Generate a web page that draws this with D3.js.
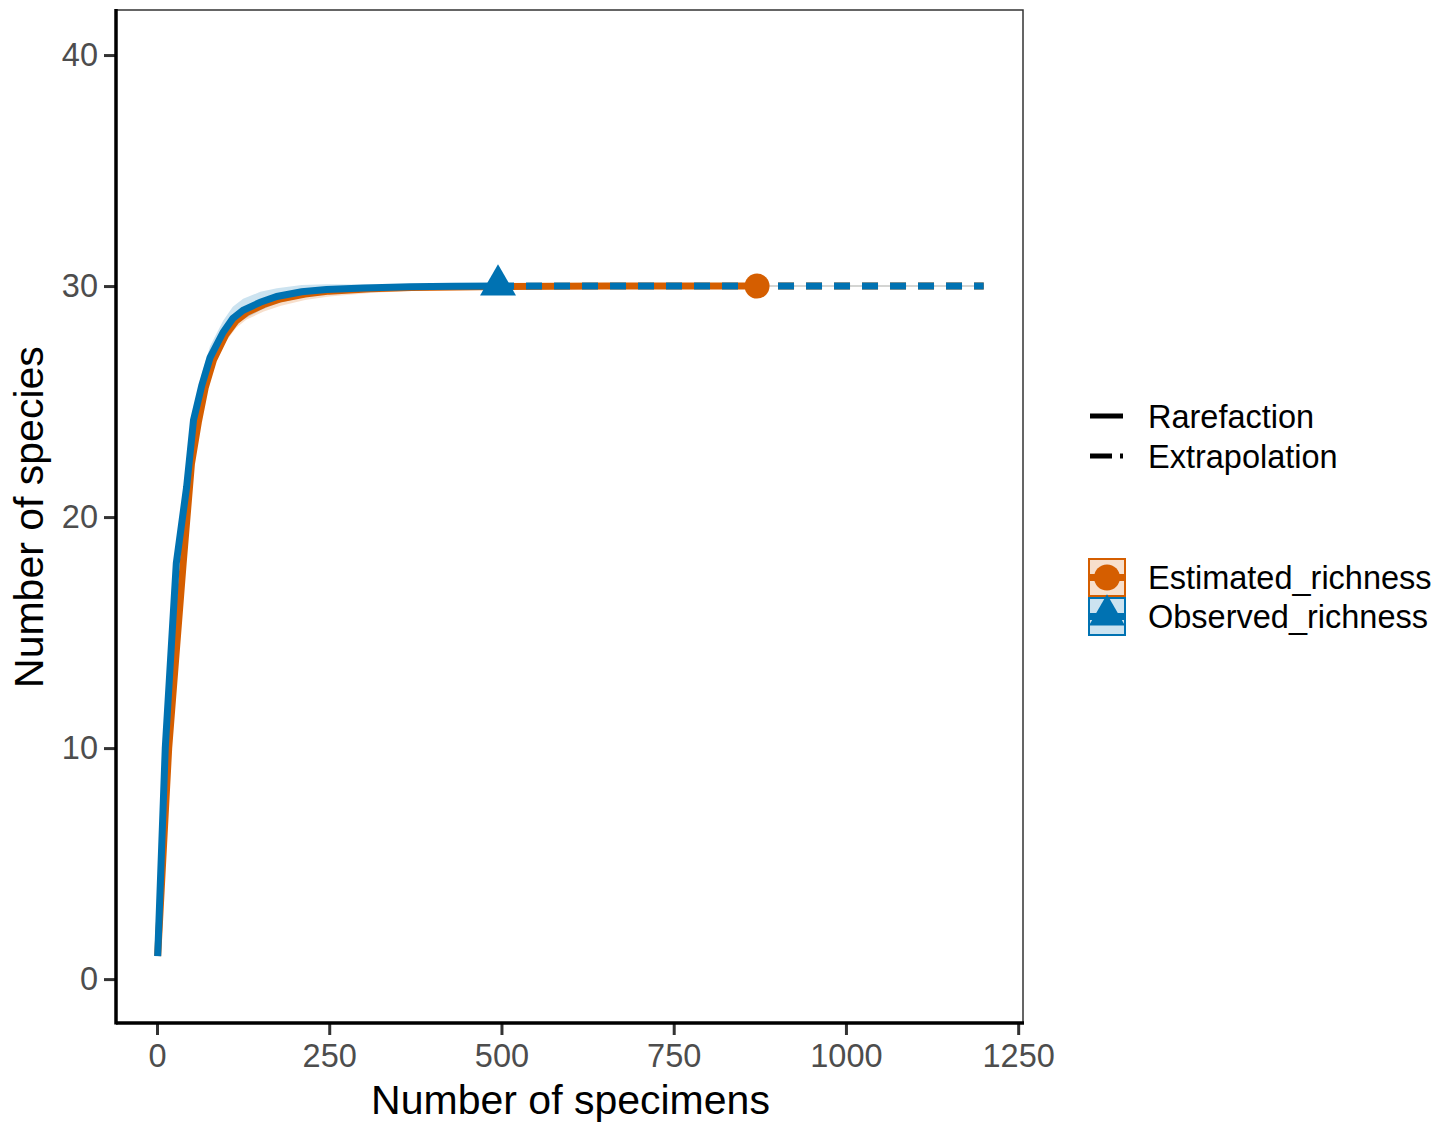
<!DOCTYPE html>
<html>
<head>
<meta charset="utf-8">
<script src="https://cdn.jsdelivr.net/npm/d3@7"></script>
<style>
  body { margin: 0; background: #fff; }
  text { font-family: "Liberation Sans", Arial, sans-serif; }
</style>
</head>
<body>
<svg id="chart" width="1454" height="1124"></svg>
<script>
// observed richness (rarefaction up to the sample size, then extrapolated)
const obsX     = [1, 12, 28, 43, 53, 65, 77, 96, 110, 125, 150, 174, 210, 246, 300, 367, 430, 495];
const obsY     = [1, 10, 18, 21.3, 24.2, 25.7, 26.9, 28, 28.6, 28.95, 29.3, 29.55, 29.75, 29.85, 29.92, 29.97, 29.99, 30];
const obsLow   = [1, 9.8, 17.7, 21.0, 23.8, 25.3, 26.5, 27.6, 28.2, 28.55, 28.95, 29.25, 29.5, 29.65, 29.77, 29.88, 29.93, 29.96];
const obsHigh  = [1, 10.2, 18.3, 21.6, 24.6, 26.2, 27.4, 28.5, 29.1, 29.45, 29.75, 29.9, 30.05, 30.08, 30.07, 30.05, 30.04, 30.04];
const obsExtX  = [495, 871, 1200];
const obsExtY  = [30, 30, 30];

// estimated richness
const estX     = [1, 17, 38, 50, 60, 70, 82, 100, 115, 130, 155, 180, 215, 250, 310, 370, 500, 650, 871];
const estY     = [1, 10, 18, 22.3, 24.1, 25.6, 26.8, 27.9, 28.5, 28.85, 29.2, 29.45, 29.65, 29.78, 29.88, 29.94, 29.98, 30, 30];
const estLow   = [1, 9.8, 17.7, 22.0, 23.8, 25.3, 26.5, 27.6, 28.2, 28.55, 28.9, 29.15, 29.4, 29.55, 29.7, 29.8, 29.9, 29.95, 29.97];
const estHigh  = [1, 10.2, 18.3, 22.6, 24.4, 25.9, 27.1, 28.2, 28.8, 29.15, 29.45, 29.7, 29.85, 29.95, 30.0, 30.02, 30.03, 30.03, 30.03];
const estExtX  = [871, 1200];
const estExtY  = [30, 30];

const xTicks = [0, 250, 500, 750, 1000, 1250];
const yTicks = [0, 10, 20, 30, 40];
const seriesNames = ["Estimated_richness", "Observed_richness"];
const methodNames = ["Rarefaction", "Extrapolation"];

const orange = "#D55E00", blue = "#0072B2";

const svg = d3.select("#chart");
const pLeft = 116, pRight = 1023, pTop = 10, pBottom = 1023;

const x = d3.scaleLinear().domain([-59.5, 1257]).range([pLeft, pRight]);
const y = d3.scaleLinear().domain([-1.9, 41.95]).range([pBottom, pTop]);

const zip = (xs, ys) => xs.map((v, i) => [v, ys[i]]);
const line = d3.line().x(d => x(d[0])).y(d => y(d[1]));
const area = d3.area().x(d => x(d[0])).y0(d => y(d[1])).y1(d => y(d[2]));

// confidence bands
svg.append("path")
  .attr("d", area(estX.map((v, i) => [v, estLow[i], estHigh[i]]).concat([[1200, 29.97, 30.03]])))
  .attr("fill", orange).attr("opacity", 0.2);
svg.append("path")
  .attr("d", area(obsX.map((v, i) => [v, obsLow[i], obsHigh[i]]).concat([[1200, 29.97, 30.03]])))
  .attr("fill", blue).attr("opacity", 0.2);

const lw = 7, dash = "16,12";

// estimated lines
svg.append("path").attr("d", line(zip(estX, estY)))
  .attr("fill", "none").attr("stroke", orange).attr("stroke-width", lw);
svg.append("path").attr("d", line(zip(estExtX, estExtY)))
  .attr("fill", "none").attr("stroke", orange).attr("stroke-width", lw)
  .attr("stroke-dasharray", dash)
  .attr("stroke-dashoffset", x(estExtX[0]) - x(obsExtX[0]));

// observed lines
svg.append("path").attr("d", line(zip(obsX, obsY)))
  .attr("fill", "none").attr("stroke", blue).attr("stroke-width", lw);
svg.append("path").attr("d", line(zip(obsExtX, obsExtY)))
  .attr("fill", "none").attr("stroke", blue).attr("stroke-width", lw)
  .attr("stroke-dasharray", dash);

// reference points
svg.append("circle")
  .attr("cx", x(estX[estX.length - 1])).attr("cy", y(estY[estY.length - 1]))
  .attr("r", 12.5).attr("fill", orange);
svg.append("path")
  .attr("d", d3.symbol(d3.symbolTriangle, 560)())
  .attr("transform", `translate(${x(obsX[obsX.length - 1])},${y(obsY[obsY.length - 1]) - 1})`)
  .attr("fill", blue);

// axes
const yAxis = svg.append("g").attr("transform", `translate(${pLeft},0)`)
  .call(d3.axisLeft(y).tickValues(yTicks).tickSize(12).tickPadding(6));
const xAxis = svg.append("g").attr("transform", `translate(0,${pBottom})`)
  .call(d3.axisBottom(x).tickValues(xTicks).tickSize(12).tickPadding(9).tickFormat(d3.format("d")));
[yAxis, xAxis].forEach(a => {
  a.select(".domain").remove();
  a.selectAll(".tick line").attr("stroke", "#333").attr("stroke-width", 3);
  a.selectAll(".tick text").attr("fill", "#4D4D4D").style("font-size", "32.5px");
});

// panel border
svg.append("rect").attr("x", pLeft).attr("y", pTop)
  .attr("width", pRight - pLeft).attr("height", pBottom - pTop)
  .attr("fill", "none").attr("stroke", "#333").attr("stroke-width", 1.5);
svg.append("line").attr("x1", pLeft).attr("x2", pLeft).attr("y1", pTop - 1).attr("y2", pBottom + 1.5)
  .attr("stroke", "#000").attr("stroke-width", 3.5);
svg.append("line").attr("x1", pLeft).attr("x2", pRight + 1).attr("y1", pBottom).attr("y2", pBottom)
  .attr("stroke", "#000").attr("stroke-width", 3.5);

// axis titles
svg.append("text").attr("x", (pLeft + pRight) / 2 + 1).attr("y", 1114)
  .attr("text-anchor", "middle").style("font-size", "41px").text("Number of specimens");
svg.append("text").attr("transform", `translate(43,${y(20)}) rotate(-90)`)
  .attr("text-anchor", "middle").style("font-size", "41px").text("Number of species");

// legend: line type
const lg = svg.append("g");
methodNames.forEach((name, i) => {
  const cy = 416 + i * 40;
  lg.append("line").attr("x1", 1090).attr("x2", 1123).attr("y1", cy).attr("y2", cy)
    .attr("stroke", "#000").attr("stroke-width", 5)
    .attr("stroke-dasharray", i === 1 ? "22,8" : null);
  lg.append("text").attr("x", 1148).attr("y", cy + 11.5)
    .style("font-size", "32.5px").text(name);
});

// legend: series
const colors = [orange, blue];
seriesNames.forEach((name, i) => {
  const ty = 559 + i * 39;
  const c = colors[i];
  lg.append("rect").attr("x", 1089).attr("y", ty).attr("width", 36).attr("height", 37)
    .attr("fill", c).attr("fill-opacity", 0.2).attr("stroke", c).attr("stroke-width", 2);
  lg.append("line").attr("x1", 1090).attr("x2", 1124).attr("y1", ty + 18.5).attr("y2", ty + 18.5)
    .attr("stroke", c).attr("stroke-width", 7);
  if (i === 0) {
    lg.append("circle").attr("cx", 1107).attr("cy", ty + 18.5).attr("r", 13).attr("fill", c);
  } else {
    lg.append("path").attr("d", d3.symbol(d3.symbolTriangle, 560)())
      .attr("transform", `translate(1107,${ty + 17})`).attr("fill", c);
  }
  lg.append("text").attr("x", 1148).attr("y", ty + 30)
    .style("font-size", "32.5px").text(name);
});
</script>
</body>
</html>
